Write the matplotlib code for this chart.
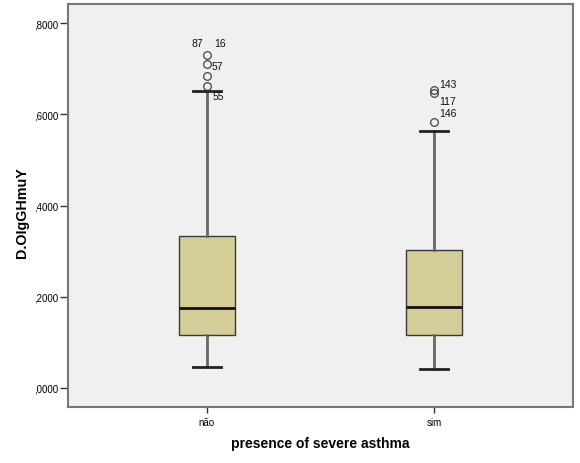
import matplotlib
matplotlib.use("Agg")
import matplotlib.pyplot as plt
from matplotlib.ticker import FuncFormatter

plt.rcParams['font.family'] = ['Liberation Sans', 'DejaVu Sans']

categories = ["não", "sim"]
q1 = [0.1162, 0.1156]
median = [0.1754, 0.1770]
q3 = [0.3327, 0.3026]
whislo = [0.0460, 0.0417]
whishi = [0.6510, 0.5636]
outliers = [[0.730, 0.711, 0.684, 0.662], [0.6535, 0.6470, 0.584]]
outlier_ids = [["16", "57", "", "55"], ["143", "117", "146"]]
extra_label = "87"
yticks = [0.0, 0.2, 0.4, 0.6, 0.8]

fig = plt.figure(figsize=(5.8, 4.64), dpi=100)
ax = fig.add_axes([0.1172, 0.1207, 0.988 - 0.1172, 0.989 - 0.1207])
ax.set_facecolor('#F0F0F0')

stats = []
for i in range(len(categories)):
    stats.append(dict(med=median[i], q1=q1[i], q3=q3[i], whislo=whislo[i],
                      whishi=whishi[i], fliers=outliers[i], label=categories[i]))

positions = list(range(1, len(categories) + 1))
ax.bxp(stats, positions=positions, widths=0.25, patch_artist=True,
       boxprops=dict(facecolor='#D3CE97', edgecolor='#3a3a3a', linewidth=1.0),
       medianprops=dict(color='#111111', linewidth=2.0),
       whiskerprops=dict(color='#666666', linewidth=2.0),
       capprops=dict(color='#222222', linewidth=2.0),
       flierprops=dict(marker='o', markerfacecolor='none', markeredgecolor='#444444',
                       markersize=5.5, markeredgewidth=0.9))

fs = 7.5
for i, pos in enumerate(positions):
    for v, lab in zip(outliers[i], outlier_ids[i]):
        if not lab:
            continue
        if i == 0:
            if lab == "16":
                off = (5, 5)
            elif lab == "55":
                off = (4, -11)
            else:
                off = (3, -5)
        else:
            if lab == "143":
                off = (4, 1)
            elif lab == "117":
                off = (4, -9)
            else:
                off = (4, 3)
        ax.annotate(lab, (pos, v), xytext=off, textcoords='offset points',
                    fontsize=fs, color='#111111', va='bottom')
ax.annotate(extra_label, (positions[0], outliers[0][0]), xytext=(-11, 5),
            textcoords='offset points', fontsize=fs, color='#111111', va='bottom')

ax.set_xlim(0.388, 2.612)
ax.set_ylim(-0.0417, 0.842)
ax.set_yticks(yticks)
ax.yaxis.set_major_formatter(FuncFormatter(lambda v, p: f"{v:.4f}".replace("0.", ",", 1)))
ax.set_xticks(positions)
ax.set_xticklabels(categories)
ax.tick_params(axis='y', labelsize=7, length=6, pad=1, color='#333333', width=1)
ax.tick_params(axis='x', labelsize=7, length=4, pad=3, color='#333333', width=1)

for s in ax.spines.values():
    s.set_color('#777777')
    s.set_linewidth(1.5)

ax.set_ylabel('D.OIgGHmuY', fontsize=10.3, fontweight='bold')
ax.yaxis.set_label_coords(-0.077, 0.484)
ax.set_xlabel('presence of severe asthma', fontsize=10, fontweight='bold', labelpad=7)

fig.savefig('out.png', dpi=100)
